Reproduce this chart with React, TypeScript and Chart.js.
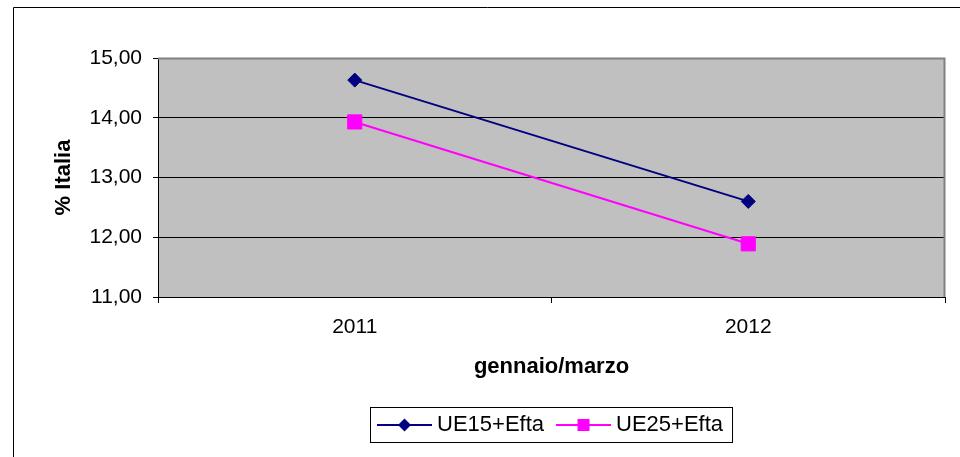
import React, { useEffect, useRef } from 'react';
import { Chart, registerables } from 'chart.js';
Chart.register(...registerables);

const categories = ['2011', '2012'];
const ue15Efta = [14.63, 12.6];
const ue25Efta = [13.93, 11.89];
const seriesLabels = ['UE15+Efta', 'UE25+Efta'];
const yTicks = [11, 12, 13, 14, 15];
const yTitle = '% Italia';
const xTitle = 'gennaio/marzo';

const FONT = "'Liberation Sans', Arial, sans-serif";

export default function App() {
  const ref = useRef<HTMLCanvasElement>(null);
  useEffect(() => {
    document.body.style.margin = '0';
    const canvas = ref.current!;

    const framePlugin = {
      id: 'frame',
      beforeDraw(chart: any) {
        const { ctx, chartArea: a } = chart;
        ctx.save();
        ctx.fillStyle = '#fff';
        ctx.fillRect(0, 0, chart.width, chart.height);
        ctx.strokeStyle = '#000';
        ctx.lineWidth = 1;
        ctx.beginPath();
        ctx.moveTo(13.5, chart.height + 5);
        ctx.lineTo(13.5, 7.5);
        ctx.lineTo(chart.width + 5, 7.5);
        ctx.stroke();
        ctx.fillStyle = '#C0C0C0';
        ctx.fillRect(a.left, a.top, a.right - a.left, a.bottom - a.top);
        ctx.restore();
      },
      beforeDatasetsDraw(chart: any) {
        const { ctx, chartArea: a } = chart;
        ctx.save();
        ctx.strokeStyle = '#808080';
        ctx.lineWidth = 2;
        ctx.beginPath();
        ctx.moveTo(a.left, a.top + 0.5);
        ctx.lineTo(a.right - 0.5, a.top + 0.5);
        ctx.lineTo(a.right - 0.5, a.bottom);
        ctx.stroke();
        ctx.restore();
      },
      afterDraw(chart: any) {
        const { ctx, chartArea: a } = chart;
        const fontSize = 22;
        ctx.save();
        ctx.font = `${fontSize}px ${FONT}`;
        const items = chart.data.datasets.map((ds: any) => ({
          label: ds.label,
          color: ds.borderColor,
          style: ds.pointStyle,
          w: ctx.measureText(ds.label).width,
        }));
        const padL = 7, lineW = 55, gapT = 5, gapItem = 12, padR = 9;
        let total = padL + padR + gapItem * (items.length - 1);
        items.forEach((it: any) => (total += lineW + gapT + it.w));
        const cx = (a.left + a.right) / 2;
        const left = Math.round(cx - total / 2);
        const top = chart.height - 50;
        const h = 35;
        ctx.strokeStyle = '#000';
        ctx.lineWidth = 1;
        ctx.strokeRect(left + 0.5, top + 0.5, total, h);
        const cy = top + h / 2 + 0.5;
        let x = left + padL;
        items.forEach((it: any) => {
          ctx.strokeStyle = it.color;
          ctx.fillStyle = it.color;
          ctx.lineWidth = 2;
          ctx.beginPath();
          ctx.moveTo(x, cy);
          ctx.lineTo(x + lineW, cy);
          ctx.stroke();
          const mx = x + lineW / 2;
          ctx.beginPath();
          if (it.style === 'rectRot') {
            const r = 6.5;
            ctx.moveTo(mx, cy - r);
            ctx.lineTo(mx + r, cy);
            ctx.lineTo(mx, cy + r);
            ctx.lineTo(mx - r, cy);
            ctx.closePath();
          } else {
            const s = 6;
            ctx.rect(mx - s, cy - s, 2 * s, 2 * s);
          }
          ctx.fill();
          ctx.fillStyle = '#000';
          ctx.textBaseline = 'middle';
          ctx.textAlign = 'left';
          ctx.fillText(it.label, x + lineW + gapT, cy);
          x += lineW + gapT + it.w + gapItem;
        });
        ctx.restore();
      },
    };

    const chart = new Chart(canvas, {
      type: 'line',
      data: {
        labels: categories,
        datasets: [
          {
            label: seriesLabels[0],
            data: ue15Efta,
            borderColor: '#000080',
            backgroundColor: '#000080',
            borderWidth: 2,
            pointStyle: 'rectRot',
            pointRadius: 7,
            pointBorderWidth: 1,
            pointBorderColor: '#000080',
            pointBackgroundColor: '#000080',
            tension: 0,
          },
          {
            label: seriesLabels[1],
            data: ue25Efta,
            borderColor: '#FF00FF',
            backgroundColor: '#FF00FF',
            borderWidth: 2,
            pointStyle: 'rect',
            pointRadius: 10,
            pointBorderWidth: 1,
            pointBorderColor: '#FF00FF',
            pointBackgroundColor: '#FF00FF',
            tension: 0,
          },
        ],
      },
      options: {
        responsive: false,
        animation: false,
        devicePixelRatio: 1,
        layout: { padding: { left: 51, top: 58, right: 15, bottom: 0 } },
        plugins: { legend: { display: false }, tooltip: { enabled: false } },
        scales: {
          x: {
            type: 'category',
            offset: true,
            grid: { offset: true, drawOnChartArea: false, tickLength: 6, tickColor: '#000', color: '#000' },
            border: { color: '#000', width: 1 },
            ticks: { color: '#000', font: { family: FONT, size: 21 }, padding: 12, maxRotation: 0 },
            title: {
              display: true,
              text: xTitle,
              color: '#000',
              font: { family: FONT, size: 22, weight: 'bold' },
              padding: { top: 0, bottom: 77 },
            },
            afterFit: (s: any) => {
              s.height = 160;
            },
          },
          y: {
            min: yTicks[0],
            max: yTicks[yTicks.length - 1],
            afterBuildTicks: (s: any) => {
              s.ticks = yTicks.map((v) => ({ value: v }));
            },
            ticks: {
              color: '#000',
              font: { family: FONT, size: 21 },
              padding: 11,
              callback: (v: any) => Number(v).toFixed(2).replace('.', ','),
            },
            grid: {
              color: (c: any) => (c.tick && c.tick.value === yTicks[yTicks.length - 1] ? 'rgba(0,0,0,0)' : '#000'),
              tickColor: '#000',
              tickLength: 5,
              lineWidth: 1,
            },
            border: { color: '#000', width: 1 },
            title: {
              display: true,
              text: yTitle,
              color: '#000',
              font: { family: FONT, size: 22, weight: 'bold' },
              padding: { top: 0, bottom: 0 },
            },
            afterFit: (s: any) => {
              s.width = 107;
            },
          },
        },
      },
      plugins: [framePlugin],
    });
    return () => chart.destroy();
  }, []);
  return <canvas ref={ref} width={960} height={457} style={{ display: 'block' }} />;
}
